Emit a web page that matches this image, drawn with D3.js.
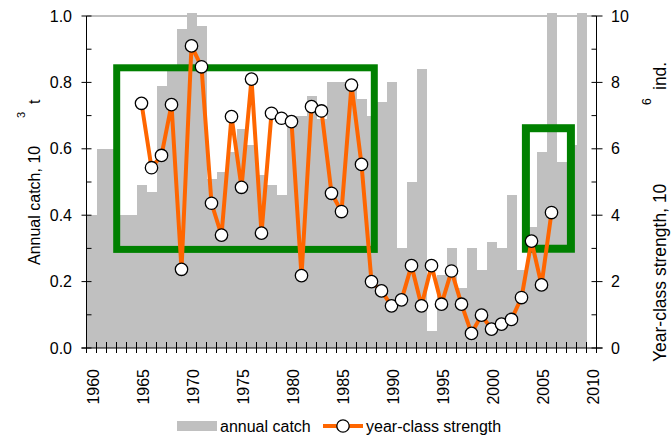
<!DOCTYPE html>
<html>
<head>
<meta charset="utf-8">
<script src="https://cdn.jsdelivr.net/npm/d3@7"></script>
<style>
  html, body { margin: 0; padding: 0; background: #fff; }
  svg { display: block; }
  text { font-family: "Liberation Sans", Arial, sans-serif; fill: #000; }
</style>
</head>
<body>
<svg id="chart" width="671" height="439"></svg>
<script>
// ---- data ----
const years = d3.range(1960, 2011);
const annualCatch = [0.40, 0.60, 0.60, 0.40, 0.40, 0.49, 0.47, 0.79, 0.85, 0.96,
  1.01, 0.97, 0.51, 0.53, 0.59, 0.66, 0.61, 0.52, 0.49, 0.46,
  0.70, 0.70, 0.76, 0.69, 0.80, 0.80, 0.80, 0.75, 0.70, 0.74,
  0.80, 0.30, 0.50, 0.84, 0.05, 0.22, 0.30, 0.18, 0.30, 0.235,
  0.32, 0.30, 0.46, 0.235, 0.365, 0.59, 1.01, 0.56, 0.61, 1.01,
  null];
const ycsYears = d3.range(1965, 2007);
const yearClassStrength = [7.37, 5.43, 5.80, 7.33, 2.37,
  9.10, 8.47, 4.36, 3.40, 6.97, 4.84, 8.10, 3.46, 7.07, 6.92,
  6.82, 2.18, 7.27, 7.14, 4.66, 4.11, 7.92, 5.53, 2.00, 1.72,
  1.27, 1.45, 2.48, 1.27, 2.48, 1.32, 2.32, 1.32, 0.44, 0.99,
  0.57, 0.72, 0.86, 1.52, 3.22, 1.90, 4.08];
const leftTicks = [0.0, 0.2, 0.4, 0.6, 0.8, 1.0];
const rightTicks = [0, 2, 4, 6, 8, 10];
const yearLabels = [1960, 1965, 1970, 1975, 1980, 1985, 1990, 1995, 2000, 2005, 2010];
// highlight boxes: [yearStart, yearEnd, strengthLow, strengthHigh]
const boxYearStart = [1963.02, 2003.94];
const boxYearEnd = [1988.78, 2008.44];
const boxLow = [2.97, 2.99];
const boxHigh = [8.44, 6.62];

// ---- layout ----
const svg = d3.select("#chart");
const L = 86.5, R = 596.5, T = 16, B = 348;
const x = d3.scaleLinear().domain([1960, 2011]).range([L, R]);
const yL = d3.scaleLinear().domain([0, 1]).range([B, T]);
const yR = d3.scaleLinear().domain([0, 10]).range([B, T]);

// top frame line
svg.append("line").attr("x1", L).attr("x2", R).attr("y1", T).attr("y2", T)
  .attr("stroke", "#808080").attr("stroke-width", 1);

// bars
const barData = years.map((y, i) => ({ year: y, v: annualCatch[i] })).filter(d => d.v != null);
svg.append("g").selectAll("rect").data(barData).join("rect")
  .attr("x", d => x(d.year))
  .attr("width", d => x(d.year + 1) - x(d.year) + 0.6)
  .attr("y", d => yL(d.v))
  .attr("height", d => yL(0) - yL(d.v))
  .attr("fill", "#c0c0c0")
  .attr("shape-rendering", "crispEdges");

// green boxes
const boxW = [7, 8];
svg.append("g").selectAll("rect").data(boxYearStart.map((s, i) => i)).join("rect")
  .attr("x", i => x(boxYearStart[i]))
  .attr("y", i => yR(boxHigh[i]))
  .attr("width", i => x(boxYearEnd[i]) - x(boxYearStart[i]))
  .attr("height", i => yR(boxLow[i]) - yR(boxHigh[i]))
  .attr("fill", "none")
  .attr("stroke", "#008000")
  .attr("stroke-width", i => boxW[i]);

// axes lines
const axisG = svg.append("g").attr("stroke", "#000").attr("stroke-width", 1);
axisG.append("line").attr("x1", L).attr("x2", L).attr("y1", T).attr("y2", B + 5);
axisG.append("line").attr("x1", R).attr("x2", R).attr("y1", T).attr("y2", B + 5);
axisG.append("line").attr("x1", L - 5).attr("x2", R + 6).attr("y1", B).attr("y2", B);

// bottom ticks (band boundaries), crossing
axisG.selectAll(".xt").data(d3.range(1960, 2012)).join("line")
  .attr("x1", d => x(d)).attr("x2", d => x(d))
  .attr("y1", B - 6).attr("y2", B + 5);

// left ticks
const leftMinor = d3.range(0, 11).map(d => d / 10);
axisG.selectAll(".lt").data(leftMinor).join("line")
  .attr("x1", d => (Math.round(d * 10) % 2 === 0) ? L - 5 : L)
  .attr("x2", L + 5)
  .attr("y1", d => yL(d)).attr("y2", d => yL(d));
// right ticks
const rightMinor = d3.range(0, 11);
axisG.selectAll(".rt").data(rightMinor).join("line")
  .attr("x1", R - 5)
  .attr("x2", d => (d % 2 === 0) ? R + 6 : R)
  .attr("y1", d => yR(d)).attr("y2", d => yR(d));

// tick labels
svg.append("g").selectAll("text").data(leftTicks).join("text")
  .attr("x", 72).attr("y", d => yL(d)).attr("dy", "0.35em")
  .attr("text-anchor", "end").attr("font-size", 16)
  .text(d => d3.format(".1f")(d));
svg.append("g").selectAll("text").data(rightTicks).join("text")
  .attr("x", 611).attr("y", d => yR(d)).attr("dy", "0.35em")
  .attr("text-anchor", "start").attr("font-size", 16)
  .text(d => d);
svg.append("g").selectAll("text").data(yearLabels).join("text")
  .attr("transform", d => `translate(${x(d + 0.5) + 7.5},369) rotate(-90)`)
  .attr("text-anchor", "end").attr("font-size", 16)
  .text(d => d);

// line + points
const pts = ycsYears.map((y, i) => ({ year: y, v: yearClassStrength[i] }));
svg.append("path").datum(pts)
  .attr("d", d3.line().x(d => x(d.year + 0.5)).y(d => yR(d.v)))
  .attr("fill", "none").attr("stroke", "#ff6600").attr("stroke-width", 4)
  .attr("stroke-linejoin", "round");
svg.append("g").selectAll("circle").data(pts).join("circle")
  .attr("cx", d => x(d.year + 0.5)).attr("cy", d => yR(d.v)).attr("r", 6.2)
  .attr("fill", "#fff").attr("stroke", "#000").attr("stroke-width", 1.3);

// axis titles
const lt = svg.append("g").attr("transform", "translate(40,265) rotate(-90)");
lt.append("text").attr("x", 0).attr("y", 0).attr("font-size", 16).text("Annual catch, 10");
lt.append("text").attr("x", 147).attr("y", -15).attr("font-size", 11).text("3");
lt.append("text").attr("x", 161).attr("y", 0).attr("font-size", 16).text("t");

const rt = svg.append("g").attr("transform", "translate(666,362) rotate(-90)");
rt.append("text").attr("x", 0).attr("y", 0).attr("font-size", 17.5).text("Year-class strength, 10");
rt.append("text").attr("x", 257).attr("y", -15).attr("font-size", 12).text("6");
rt.append("text").attr("x", 272).attr("y", 0).attr("font-size", 17.5).text("ind.");

// legend
const lg = svg.append("g");
lg.append("rect").attr("x", 177).attr("y", 421).attr("width", 40).attr("height", 10)
  .attr("fill", "#c0c0c0");
lg.append("text").attr("x", 220).attr("y", 432).attr("font-size", 16).text("annual catch");
lg.append("line").attr("x1", 323).attr("x2", 363).attr("y1", 426).attr("y2", 426)
  .attr("stroke", "#ff6600").attr("stroke-width", 4);
lg.append("circle").attr("cx", 343).attr("cy", 426).attr("r", 6.2)
  .attr("fill", "#fff").attr("stroke", "#000").attr("stroke-width", 1.3);
lg.append("text").attr("x", 366).attr("y", 432).attr("font-size", 16).text("year-class strength");
</script>
</body>
</html>
